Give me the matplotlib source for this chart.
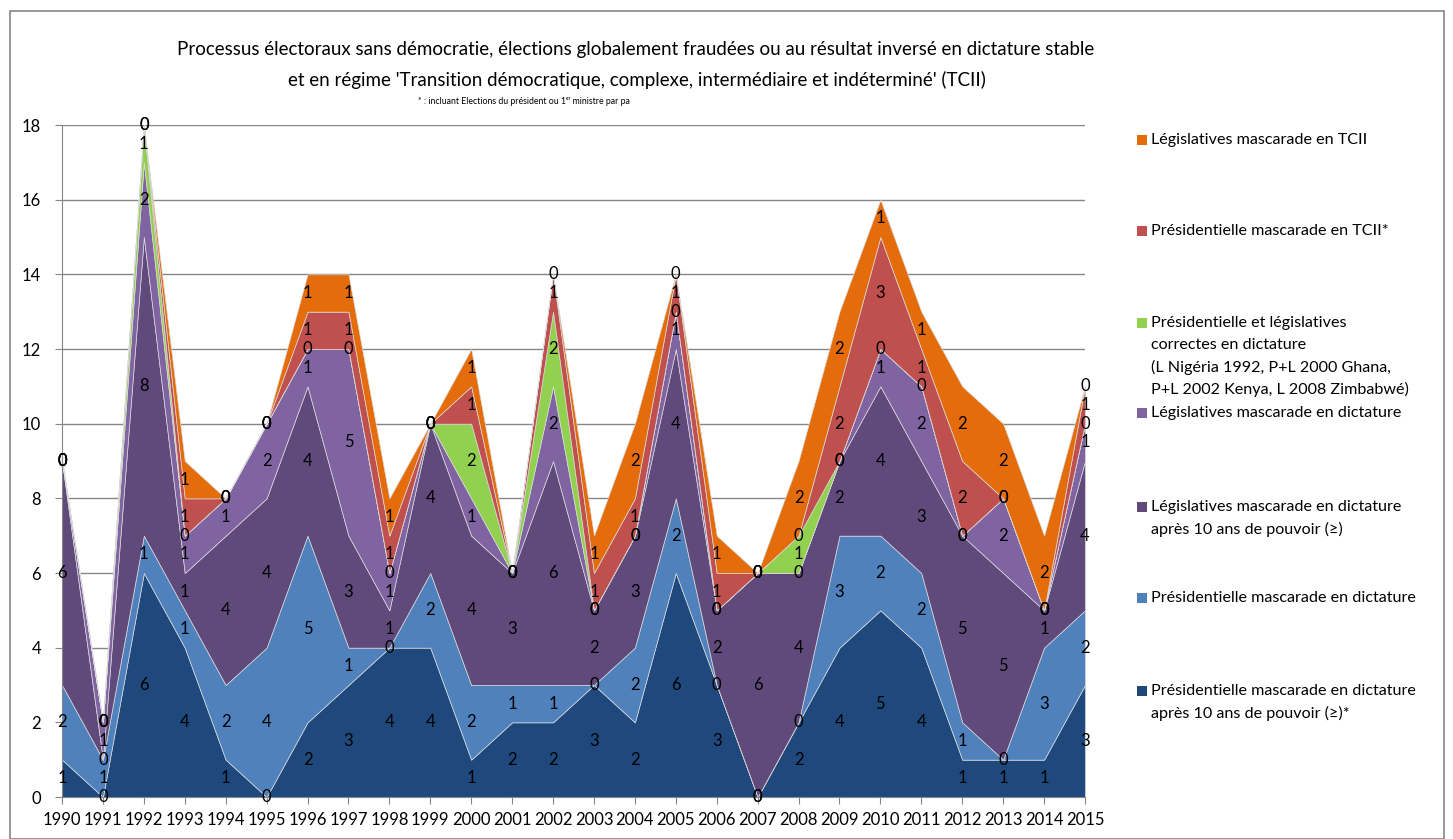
import matplotlib
matplotlib.use("Agg")
import matplotlib.pyplot as plt
from matplotlib.patches import Rectangle
import numpy as np

plt.rcParams["font.family"] = ["Lato", "DejaVu Sans"]

years = list(range(1990, 2016))

# series, bottom to top
pres_dict_10 = [1, 0, 6, 4, 1, 0, 2, 3, 4, 4, 1, 2, 2, 3, 2, 6, 3, 0, 2, 4, 5, 4, 1, 1, 1, 3]
pres_dict = [2, 1, 1, 1, 2, 4, 5, 1, 0, 2, 2, 1, 1, 0, 2, 2, 0, 0, 0, 3, 2, 2, 1, 0, 3, 2]
legis_dict_10 = [6, 0, 8, 1, 4, 4, 4, 3, 1, 4, 4, 3, 6, 2, 3, 4, 2, 6, 4, 2, 4, 3, 5, 5, 1, 4]
legis_dict = [0, 1, 2, 1, 1, 2, 1, 5, 1, 0, 1, 0, 2, 0, 0, 1, 0, 0, 0, 0, 1, 2, 0, 2, 0, 1]
correctes = [0, 0, 1, 0, 0, 0, 0, 0, 0, 0, 2, 0, 2, 0, 0, 0, 0, 0, 1, 0, 0, 0, 0, 0, 0, 0]
pres_tcii = [0, 0, 0, 1, 0, 0, 1, 1, 1, 0, 1, 0, 1, 1, 1, 1, 1, 0, 0, 2, 3, 1, 2, 0, 0, 1]
legis_tcii = [0, 0, 0, 1, 0, 0, 1, 1, 1, 0, 1, 0, 0, 1, 2, 0, 1, 0, 2, 2, 1, 1, 2, 2, 2, 0]

series = [pres_dict_10, pres_dict, legis_dict_10, legis_dict, correctes, pres_tcii, legis_tcii]
labels = [
    "Présidentielle mascarade en dictature\naprès 10 ans de pouvoir (≥)*",
    "Présidentielle mascarade en dictature",
    "Législatives mascarade en dictature\naprès 10 ans de pouvoir (≥)",
    "Législatives mascarade en dictature",
    "Présidentielle et législatives\ncorrectes en dictature\n(L Nigéria 1992, P+L 2000 Ghana,\nP+L 2002 Kenya, L 2008 Zimbabwé)",
    "Présidentielle mascarade en TCII*",
    "Législatives mascarade en TCII",
]
colors = ["#1F497D", "#4F81BD", "#604A7B", "#8064A2", "#92D050", "#C0504D", "#E46C0A"]

W, H = 1453, 839
fig = plt.figure(figsize=(W / 100, H / 100), dpi=100)
ax = fig.add_axes([62 / W, 1 - 797 / H, (1085 - 62) / W, (797 - 125) / H])

x = np.array(years)
ax.stackplot(x, *series, colors=colors, edgecolor="#D9D9D9", linewidth=0.5, zorder=2)

# data labels at the middle of each band
bottom = np.zeros(len(years))
for vals in series:
    v = np.array(vals)
    for xi, b, val in zip(x, bottom, v):
        ax.text(xi, b + val / 2, str(val), ha="center", va="center", fontsize=12, zorder=5)
    bottom = bottom + v

ax.set_xlim(1990, 2015)
ax.set_ylim(0, 18)
ax.set_yticks(range(0, 19, 2))
ax.set_xticks(years)
ax.set_xticklabels([str(y) for y in years], fontsize=12)
ax.tick_params(axis="y", labelsize=12, length=5, color="#868686", pad=10)
ax.tick_params(axis="x", length=5, color="#868686", pad=6)
ax.grid(axis="y", color="#868686", linewidth=1, zorder=0)
ax.set_axisbelow(True)
for s in ["top", "right"]:
    ax.spines[s].set_visible(False)
for s in ["left", "bottom"]:
    ax.spines[s].set_color("#868686")
    ax.spines[s].set_zorder(3)

# titles
fig.text(636 / W, 1 - 50 / H,
         "Processus électoraux sans démocratie, élections globalement fraudées ou au résultat inversé en dictature stable",
         ha="center", va="center", fontsize=13.5)
fig.text(637 / W, 1 - 80 / H,
         "et en régime 'Transition démocratique, complexe, intermédiaire et indéterminé' (TCII)",
         ha="center", va="center", fontsize=13.5)
fig.text(524 / W, 1 - 102 / H, "* : incluant Elections du président ou 1ᵉʳ ministre par pa",
         ha="center", va="center", fontsize=6.3)

# legend, top entry first
legend_y = [140, 231, 323, 413, 507, 598, 691]
for lab, col, ly in zip(labels[::-1], colors[::-1], legend_y):
    fig.patches.append(Rectangle((1137 / W, 1 - (ly + 5) / H), 10 / W, 10 / H,
                                 transform=fig.transFigure, facecolor=col, edgecolor="none"))
    for j, line in enumerate(lab.split("\n")):
        fig.text(1151 / W, 1 - (ly + 22 * j) / H, line, ha="left", va="center", fontsize=11.6)

# outer frame
fig.patches.append(Rectangle((10 / W, 0), (1444 - 10) / W, 1 - 11 / H,
                             transform=fig.transFigure, fill=False, edgecolor="#868686", linewidth=1.2))

fig.savefig("out.png", dpi=100)
